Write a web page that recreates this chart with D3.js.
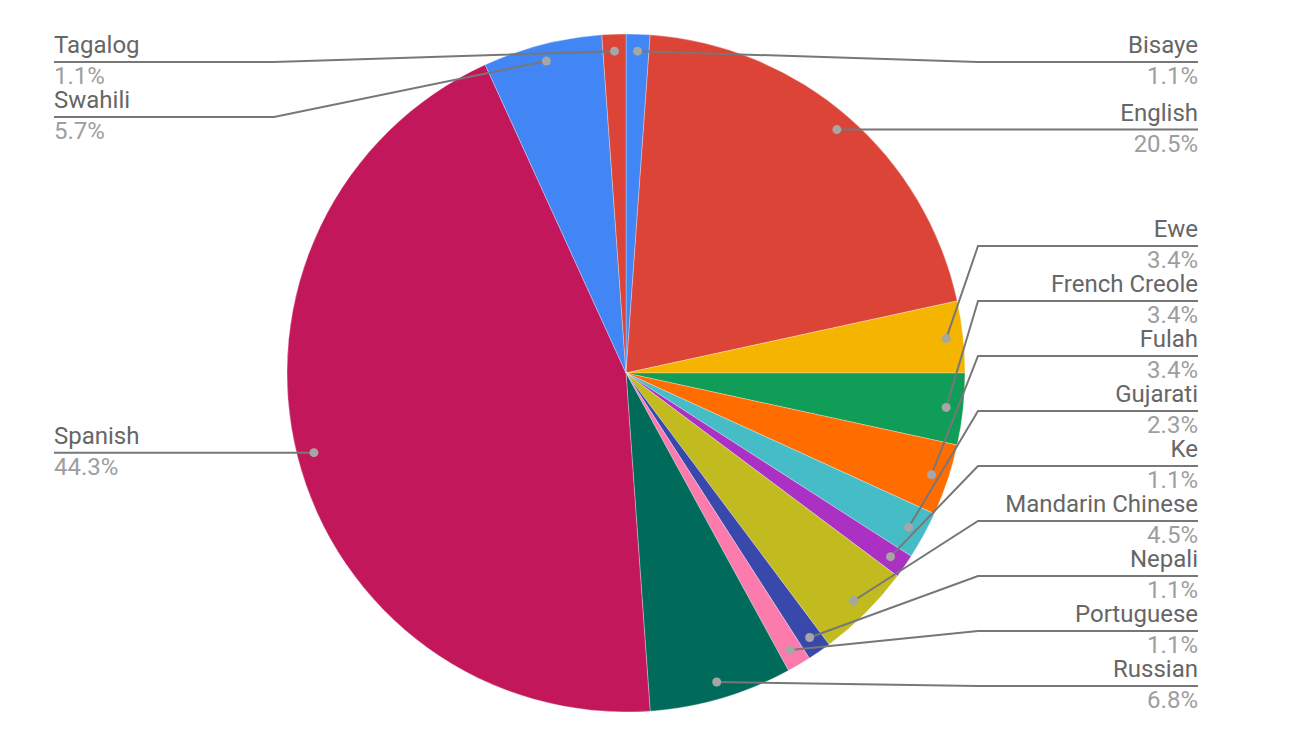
<!DOCTYPE html>
<html>
<head>
<meta charset="utf-8">
<script src="https://cdn.jsdelivr.net/npm/d3@7"></script>
<style>
  body { margin: 0; background: #fff; }
  svg text { font-family: Roboto, "Noto Sans", sans-serif; }
</style>
</head>
<body>
<div id="wrapper"></div>
<script>
// languages, in the order the slices run clockwise from 12 o'clock
const languages = [
    "Bisaye", "English", "Ewe", "French Creole", "Fulah", "Gujarati", "Ke",
    "Mandarin Chinese", "Nepali", "Portuguese", "Russian", "Spanish", "Swahili", "Tagalog"
]
// number of responses per language
const counts = [1, 18, 3, 3, 3, 2, 1, 4, 1, 1, 6, 39, 5, 1]
// percentage labels as shown on the chart
const percentLabels = [
    "1.1%", "20.5%", "3.4%", "3.4%", "3.4%", "2.3%", "1.1%",
    "4.5%", "1.1%", "1.1%", "6.8%", "44.3%", "5.7%", "1.1%"
]
const sliceColors = [
    "#4285f4", "#db4437", "#f4b400", "#0f9d58", "#ff6d01", "#46bdc6", "#ab30c4",
    "#c1bb20", "#3949ab", "#fb7bad", "#016b5b", "#c2185b", "#4285f4", "#db4437"
]

let dimensions = {
    width: 1300,
    height: 733,
    cx: 626,
    cy: 373,
    radius: 339,
}

const data = languages.map((name, i) => ({ name, count: counts[i], pct: percentLabels[i], color: sliceColors[i] }))

let svg = d3.select("#wrapper")
    .append("svg")
    .attr("width", dimensions.width)
    .attr("height", dimensions.height)

const pie = d3.pie()
    .sort(null)
    .value(d => d.count)

const arcs = pie(data)

const arc = d3.arc()
    .innerRadius(0)
    .outerRadius(dimensions.radius)

const dotArc = d3.arc()
    .innerRadius(dimensions.radius * 0.95)
    .outerRadius(dimensions.radius * 0.95)

let g = svg.append("g")
    .attr("transform", `translate(${dimensions.cx},${dimensions.cy})`)

g.selectAll("path.slice")
    .data(arcs)
    .enter()
    .append("path")
    .attr("class", "slice")
    .attr("d", arc)
    .attr("fill", d => d.data.color)
    .attr("stroke", "#fff")
    .attr("stroke-width", 0.3)

// label layout: each label sits on a horizontal rule; rules stack 55px apart
const labelGap = 55
const minY = 62 - dimensions.cy
const maxY = 686 - dimensions.cy
const elbowOffset = 352
const textEdge = 572

let labels = arcs.map(d => {
    const [x, y] = dotArc.centroid(d)
    return { d, dotX: x, dotY: y, side: x >= 0 ? 1 : -1, y: y }
})

function layoutSide(side) {
    let list = labels.filter(l => l.side === side).sort((a, b) => a.dotY - b.dotY)
    // push down
    for (let i = 0; i < list.length; i++) {
        let y = Math.max(list[i].dotY, minY)
        if (i > 0) y = Math.max(y, list[i - 1].y + labelGap)
        list[i].y = y
    }
    // push up from the bottom
    for (let i = list.length - 1; i >= 0; i--) {
        let y = Math.min(list[i].y, maxY)
        if (i < list.length - 1) y = Math.min(y, list[i + 1].y - labelGap)
        list[i].y = y
    }
}
layoutSide(1)
layoutSide(-1)

let labelGroup = g.selectAll("g.label")
    .data(labels)
    .enter()
    .append("g")
    .attr("class", "label")

labelGroup.append("polyline")
    .attr("points", l => {
        const ex = l.side * elbowOffset
        return [[l.dotX, l.dotY], [ex, l.y], [l.side * textEdge, l.y]].map(p => p.join(",")).join(" ")
    })
    .attr("fill", "none")
    .attr("stroke", "#777")
    .attr("stroke-width", 2)

labelGroup.append("circle")
    .attr("cx", l => l.dotX)
    .attr("cy", l => l.dotY)
    .attr("r", 4.5)
    .attr("fill", "#a6a6a6")

labelGroup.append("text")
    .attr("x", l => l.side * textEdge)
    .attr("y", l => l.y - 9)
    .attr("text-anchor", l => l.side > 0 ? "end" : "start")
    .attr("font-size", 24)
    .attr("fill", "#666")
    .text(l => l.d.data.name)

labelGroup.append("text")
    .attr("x", l => l.side * textEdge)
    .attr("y", l => l.y + 22)
    .attr("text-anchor", l => l.side > 0 ? "end" : "start")
    .attr("font-size", 24)
    .attr("fill", "#9e9e9e")
    .text(l => l.d.data.pct)
</script>
</body>
</html>
